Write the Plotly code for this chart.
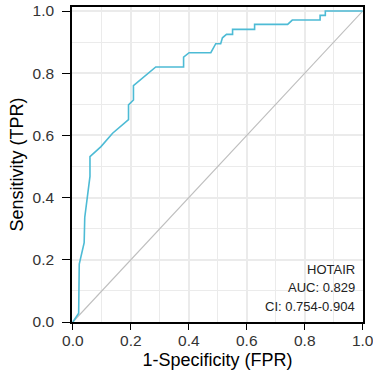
import plotly.graph_objects as go

# ROC curve points (1-Specificity, Sensitivity)
fpr = [0.000, 0.020, 0.022, 0.039, 0.041, 0.059, 0.059, 0.097, 0.137, 0.192,
       0.192, 0.209, 0.209, 0.286, 0.382, 0.382, 0.401, 0.476, 0.493, 0.510,
       0.516, 0.530, 0.551, 0.551, 0.627, 0.627, 0.741, 0.757, 0.853, 0.853,
       0.871, 0.871, 1.000]
tpr = [0.000, 0.028, 0.186, 0.255, 0.336, 0.468, 0.532, 0.564, 0.607, 0.651,
       0.698, 0.714, 0.760, 0.820, 0.820, 0.852, 0.866, 0.866, 0.895, 0.895,
       0.914, 0.925, 0.925, 0.941, 0.941, 0.957, 0.957, 0.971, 0.971, 0.986,
       0.986, 1.000, 1.000]
diag = [0, 1]

tick_vals = [0.0, 0.2, 0.4, 0.6, 0.8, 1.0]
tick_text = ["0.0", "0.2", "0.4", "0.6", "0.8", "1.0"]
label_lines = ["HOTAIR", "AUC: 0.829", "CI: 0.754-0.904"]

FONT = "Liberation Sans, Arial, sans-serif"

fig = go.Figure()
fig.add_trace(go.Scatter(x=diag, y=diag, mode="lines",
                         line=dict(color="#BEBEBE", width=1.2),
                         hoverinfo="skip", showlegend=False))
fig.add_trace(go.Scatter(x=fpr, y=tpr, mode="lines",
                         line=dict(color="#4DBBD5", width=1.6),
                         showlegend=False))

axis_common = dict(
    showline=True, linecolor="black", linewidth=1.6, mirror=True,
    ticks="outside", tickcolor="black", tickwidth=1.4,
    tickvals=tick_vals, ticktext=tick_text,
    tickfont=dict(family=FONT, size=15.5, color="#333333"),
    ticklabeloverflow="allow",
    showgrid=True, gridcolor="#EBEBEB", gridwidth=1.6,
    minor=dict(dtick=0.1, tick0=0, showgrid=True, gridcolor="#EBEBEB",
               gridwidth=1.4, ticks=""),
    zeroline=False, automargin=False,
)

fig.update_layout(
    width=373, height=381,
    margin=dict(l=72, r=10, t=7, b=59),
    paper_bgcolor="white", plot_bgcolor="white",
    font=dict(family=FONT, color="black"),
    xaxis=dict(range=[-0.003, 1.001], ticklen=6, ticklabelstandoff=-2,
               title=dict(text="1-Specificity (FPR)",
                          font=dict(family=FONT, size=18, color="black"),
                          standoff=5),
               **axis_common),
    yaxis=dict(range=[0, 1.013], ticklen=8, ticklabelstandoff=5,
               title=dict(text="Sensitivity (TPR)",
                          font=dict(family=FONT, size=18, color="black"),
                          standoff=4),
               **axis_common),
)

ys = [0.166, 0.108, 0.050]
for txt, yy in zip(label_lines, ys):
    fig.add_annotation(text=txt, xref="paper", yref="paper", x=0.979, y=yy,
                       xanchor="right", yanchor="middle", showarrow=False,
                       font=dict(family=FONT, size=13, color="#222222"))

fig.write_html("out.html",
               config={"displayModeBar": False},
               post_script="document.body.style.margin='0';"
                           "document.body.style.padding='0';")
